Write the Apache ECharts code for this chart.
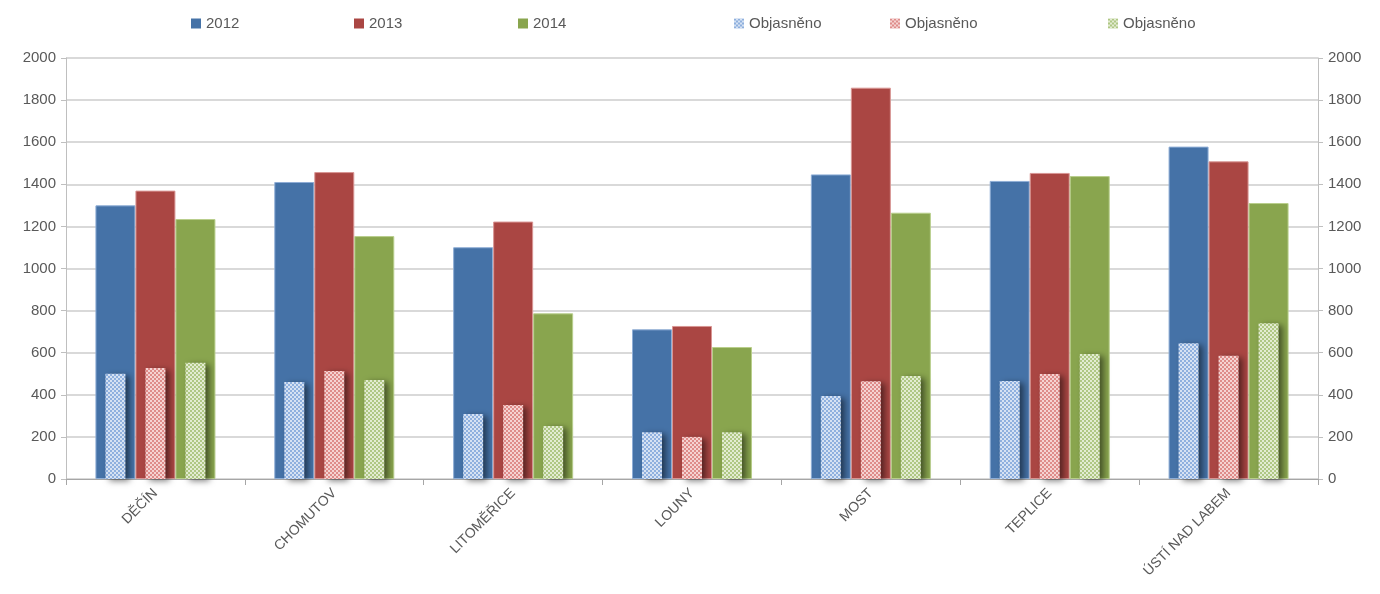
<!DOCTYPE html>
<html><head><meta charset="utf-8">
<script src="https://cdn.jsdelivr.net/npm/echarts@6/dist/echarts.min.js"></script>
<style>html,body{margin:0;padding:0;background:#fff}#c{width:1380px;height:594px}</style>
</head><body><div id="c"></div>
<script>
const categories = ['DĚČÍN','CHOMUTOV','LITOMĚŘICE','LOUNY','MOST','TEPLICE','ÚSTÍ NAD LABEM'];
const yearNames = ['2012','2013','2014'];
const values2012 = [1300,1411,1101,711,1447,1416,1579];
const values2013 = [1370,1458,1223,727,1859,1454,1509];
const values2014 = [1235,1154,787,627,1265,1439,1311];
const solved2012 = [500,461,309,222,394,466,645];
const solved2013 = [527,513,352,200,464,499,586];
const solved2014 = [552,470,252,222,489,594,740];
const solvedName = 'Objasněno';
const yTicks = [0,200,400,600,800,1000,1200,1400,1600,1800,2000];

const mainColors = ['#4572A7','#AA4643','#89A54E'];
const borderColors = ['#8FAED6','#D99694','#B9CF8C'];
const patColors = ['#8FB0DE','#DE8C8A','#AFC784'];
const patBase = ['#D6E2F3','#F5D3D2','#E3ECD2'];
function pattern(i){
  const cv=document.createElement('canvas'); cv.width=4; cv.height=4;
  const g=cv.getContext('2d'); g.fillStyle=patBase[i]; g.fillRect(0,0,4,4);
  g.fillStyle=patColors[i]; g.fillRect(0,0,2,2); g.fillRect(2,2,2,2);
  return {image:cv, repeat:'repeat'};
}
const mainData=[values2012,values2013,values2014];
const solvedData=[solved2012,solved2013,solved2014];
const series=[];
for(let i=0;i<3;i++){
  series.push({name:yearNames[i],type:'bar',xAxisIndex:0,yAxisIndex:0,data:mainData[i],
    barWidth:40,barGap:'0%',
    itemStyle:{color:mainColors[i],borderColor:borderColors[i],borderWidth:1}});
}
for(let i=0;i<3;i++){
  series.push({name:solvedName+' '+(i+1),type:'bar',xAxisIndex:1,yAxisIndex:1,data:solvedData[i],
    barWidth:20,barGap:'100%',z:3,
    itemStyle:{color:pattern(i),shadowColor:'rgba(0,0,0,0.5)',shadowBlur:6,shadowOffsetX:4,shadowOffsetY:2}});
}
const legendLeft=[186,349,513,729,885,1103];
const legends=legendLeft.map((l,i)=>({
  left:l, top:11, itemWidth:10, itemHeight:10, itemGap:5, icon:'rect',
  data:[series[i].name],
  itemStyle:{borderWidth:0,shadowBlur:0,shadowOffsetX:0,shadowOffsetY:0},
  formatter:n=>n.startsWith(solvedName)?solvedName:n,
  textStyle:{color:'#595959',fontSize:15,fontFamily:'Liberation Sans Narrow, Liberation Sans, sans-serif'}
}));
const yAx=(pos)=>({type:'value',position:pos,min:yTicks[0],max:yTicks[yTicks.length-1],interval:200,
  axisLine:{show:true,lineStyle:{color:'#bfbfbf'}},
  axisTick:{show:true,length:5,lineStyle:{color:'#bfbfbf'}},
  axisLabel:{color:'#595959',fontSize:15,margin:10,fontFamily:'Liberation Sans, sans-serif',formatter:v=>String(v)},
  splitLine:{show:pos==='left',lineStyle:{color:'#d9d9d9',width:2}}});
const chart=echarts.init(document.getElementById('c'));
chart.setOption({
  animation:false,
  legend:legends,
  grid:{left:66,right:62,top:58,bottom:115},
  xAxis:[
    {type:'category',data:categories,
      axisLine:{lineStyle:{color:'#a6a6a6',width:1}},
      axisTick:{show:true,length:6,lineStyle:{color:'#a6a6a6'}},
      axisLabel:{rotate:45,color:'#595959',fontSize:14,margin:12,interval:0,fontFamily:'Liberation Sans, sans-serif'}},
    {type:'category',data:categories,show:false}
  ],
  yAxis:[yAx('left'),yAx('right')],
  series:series
});
</script></body></html>
